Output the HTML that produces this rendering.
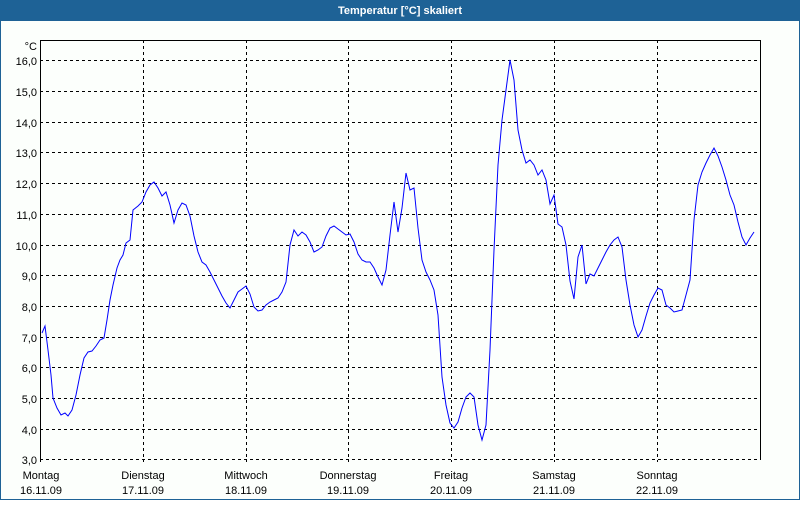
<!DOCTYPE html>
<html><head><meta charset="utf-8"><style>
html,body{margin:0;padding:0;background:#fff}
body{width:800px;height:500px;overflow:hidden;font-family:"Liberation Sans",sans-serif}
</style></head><body>
<svg width="800" height="500" xmlns="http://www.w3.org/2000/svg" font-family="Liberation Sans, sans-serif" font-size="11">
<rect x="0" y="0" width="800" height="500" fill="#1e6296"/>
<rect x="1" y="21" width="798" height="478" fill="#fcfffc"/>
<text x="400" y="14" fill="#fff" font-weight="bold" text-anchor="middle" font-size="11">Temperatur [°C] skaliert</text>
<g stroke="#000" stroke-dasharray="3,3" stroke-width="1">
<line x1="40" x2="760" y1="60.5" y2="60.5"/><line x1="40" x2="760" y1="91.5" y2="91.5"/>
<line x1="40" x2="760" y1="122.5" y2="122.5"/><line x1="40" x2="760" y1="152.5" y2="152.5"/>
<line x1="40" x2="760" y1="183.5" y2="183.5"/><line x1="40" x2="760" y1="214.5" y2="214.5"/>
<line x1="40" x2="760" y1="245.5" y2="245.5"/><line x1="40" x2="760" y1="275.5" y2="275.5"/>
<line x1="40" x2="760" y1="306.5" y2="306.5"/><line x1="40" x2="760" y1="337.5" y2="337.5"/>
<line x1="40" x2="760" y1="367.5" y2="367.5"/><line x1="40" x2="760" y1="398.5" y2="398.5"/>
<line x1="40" x2="760" y1="429.5" y2="429.5"/><line x1="40" x2="760" y1="459.5" y2="459.5"/>
<line y1="40" y2="462" x1="143.5" x2="143.5"/><line y1="40" y2="462" x1="246.5" x2="246.5"/>
<line y1="40" y2="462" x1="348.5" x2="348.5"/><line y1="40" y2="462" x1="451.5" x2="451.5"/>
<line y1="40" y2="462" x1="554.5" x2="554.5"/><line y1="40" y2="462" x1="657.5" x2="657.5"/>
</g>
<path d="M40.5 40v422M40.5 40.5H760.5V460" stroke="#000" fill="none"/>
<g text-anchor="end" fill="#000">
<text x="37" y="50">°C</text>
<text x="37" y="65">16,0</text><text x="37" y="96">15,0</text><text x="37" y="127">14,0</text>
<text x="37" y="157">13,0</text><text x="37" y="188">12,0</text><text x="37" y="219">11,0</text>
<text x="37" y="250">10,0</text><text x="37" y="280">9,0</text><text x="37" y="311">8,0</text>
<text x="37" y="342">7,0</text><text x="37" y="372">6,0</text><text x="37" y="403">5,0</text>
<text x="37" y="434">4,0</text><text x="37" y="464">3,0</text>
</g>
<g text-anchor="middle" fill="#000">
<text x="41" y="479">Montag</text><text x="41" y="494">16.11.09</text>
<text x="143" y="479">Dienstag</text><text x="143" y="494">17.11.09</text>
<text x="246" y="479">Mittwoch</text><text x="246" y="494">18.11.09</text>
<text x="348" y="479">Donnerstag</text><text x="348" y="494">19.11.09</text>
<text x="451" y="479">Freitag</text><text x="451" y="494">20.11.09</text>
<text x="554" y="479">Samstag</text><text x="554" y="494">21.11.09</text>
<text x="657" y="479">Sonntag</text><text x="657" y="494">22.11.09</text>
</g>
<polyline fill="none" stroke="#0000ff" stroke-width="1" points="42,333 45,326 48,350 51,375 53,398 57,408 61,415 65,413 68,416 72,410 76,395 80,375 84,358 88,352 92,351 96,346 100,340 104,338 107,320 110,300 113,285 117,268 120,260 123,255 126,243 130,240 133,210 138,206 142,202 146,192 150,185 154,182 158,188 162,196 166,192 170,205 174,223 178,210 182,203 186,205 190,216 194,236 198,252 202,262 206,265 210,272 214,280 218,288 222,296 226,303 230,308 234,300 238,292 242,289 246,286 250,294 254,307 258,311 262,310 266,305 270,302 274,300 278,298 282,292 286,282 290,245 294,230 298,236 302,232 306,235 310,242 314,252 318,250 322,247 326,236 330,228 334,226 338,229 342,232 346,235 350,234 354,242 358,254 362,260 366,262 370,262 374,268 378,277 382,285 386,270 390,235 394,202 398,232 402,208 406,173 410,190 414,188 418,228 422,260 426,272 430,280 434,290 438,315 442,377 446,405 450,423 454,428 458,422 462,408 466,397 470,393 474,397 478,425 482,440 486,425 490,350 494,250 498,165 502,120 506,90 510,60 514,80 518,130 522,150 526,163 530,160 534,165 538,175 542,170 546,180 550,204 554,195 558,224 562,227 566,245 570,281 574,299 578,257 582,245 586,284 590,274 594,276 598,268 602,260 606,252 610,245 614,240 618,237 622,247 626,280 630,305 634,325 638,337 642,330 646,316 650,303 654,295 658,288 662,290 666,305 670,308 674,312 678,311 682,310 686,295 690,280 694,220 698,185 702,172 706,163 710,155 714,148 718,156 722,167 726,180 730,195 734,205 738,222 742,237 746,245 750,238 754,232"/>
</svg>
</body></html>
